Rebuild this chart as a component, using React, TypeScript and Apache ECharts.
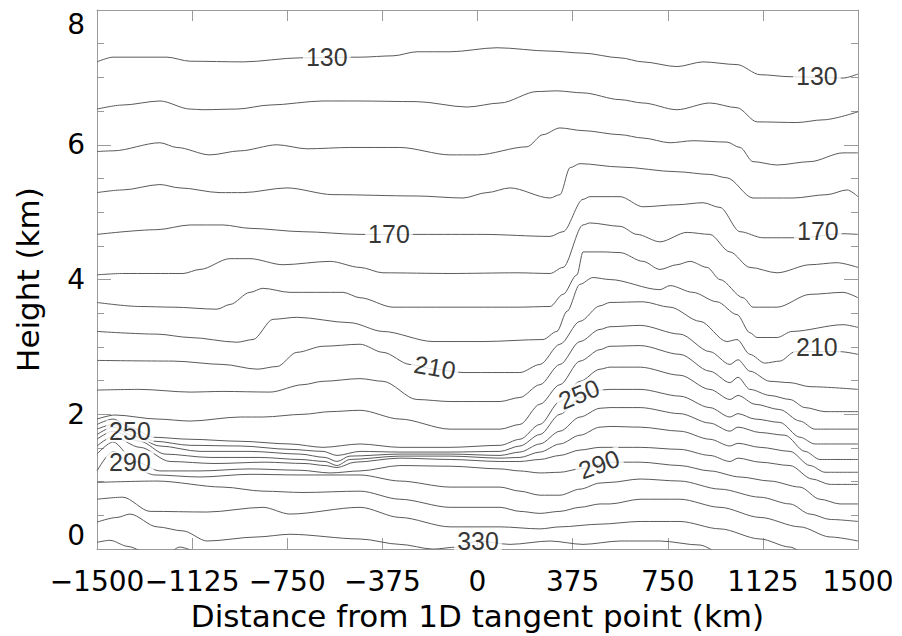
import React, { useEffect, useRef } from "react";
import * as echarts from "echarts";

type Pt = [number, number];

// Contour levels (one polyline per level), distance in km vs height in km
const c130: Pt[] = [[-1500,7.23],[-1437,7.30],[-1224,7.30],[-1133,7.24],[-924,7.23],[-700,7.29],[-463,7.30],[-333,7.32],[-239,7.38],[-108,7.38],[77,7.44],[286,7.39],[416,7.36],[562,7.29],[652,7.23],[786,7.16],[889,7.23],[1023,7.19],[1114,7.04],[1232,7.01],[1441,6.99],[1500,7.05]];
const c140: Pt[] = [[-1500,6.53],[-1398,6.59],[-1252,6.65],[-1133,6.53],[-1082,6.52],[-948,6.53],[-818,6.59],[-609,6.65],[-475,6.65],[-239,6.64],[-41,6.56],[89,6.62],[235,6.79],[313,6.80],[416,6.77],[562,6.67],[652,6.62],[786,6.52],[916,6.62],[1023,6.55],[1102,6.34],[1259,6.33],[1362,6.37],[1500,6.49]];
const c150: Pt[] = [[-1500,5.90],[-1437,5.91],[-1252,6.03],[-1185,5.96],[-1055,5.85],[-936,5.91],[-790,6.00],[-672,5.94],[-503,5.96],[-306,5.96],[-108,5.85],[0,5.85],[195,5.97],[258,6.15],[325,6.25],[416,6.21],[562,6.15],[652,6.10],[759,6.03],[849,6.06],[983,6.04],[1035,5.96],[1086,5.75],[1181,5.70],[1311,5.75],[1441,5.88],[1500,5.88]];
const c160: Pt[] = [[-1500,5.29],[-1398,5.33],[-1252,5.41],[-1173,5.36],[-1015,5.29],[-924,5.29],[-751,5.36],[-570,5.26],[-239,5.24],[-57,5.21],[37,5.29],[128,5.36],[286,5.21],[325,5.26],[365,5.66],[404,5.72],[562,5.67],[786,5.60],[916,5.56],[983,5.51],[1086,5.21],[1244,5.21],[1378,5.26],[1457,5.33],[1500,5.23]];
const c170: Pt[] = [[-1500,4.67],[-1264,4.74],[-1133,4.81],[-1003,4.81],[-897,4.76],[-688,4.71],[-463,4.67],[-227,4.67],[22,4.67],[286,4.64],[337,4.71],[416,5.19],[443,5.23],[562,5.23],[652,5.08],[786,5.11],[889,5.14],[956,5.07],[1035,4.71],[1125,4.62],[1271,4.62],[1441,4.68],[1500,4.67]];
const c180: Pt[] = [[-1500,4.07],[-1398,4.09],[-1161,4.09],[-1094,4.15],[-976,4.31],[-897,4.31],[-767,4.22],[-581,4.27],[-463,4.18],[-373,4.10],[-108,4.09],[156,4.10],[286,4.09],[337,4.18],[416,4.81],[443,4.84],[562,4.79],[629,4.67],[719,4.56],[826,4.70],[916,4.67],[995,4.41],[1074,4.18],[1181,4.10],[1311,4.22],[1417,4.25],[1500,4.18]];
const c190: Pt[] = [[-1500,3.66],[-1330,3.60],[-1200,3.59],[-1027,3.56],[-976,3.63],[-897,3.81],[-846,3.87],[-739,3.81],[-530,3.81],[-463,3.73],[-333,3.59],[-108,3.59],[156,3.59],[286,3.60],[337,3.78],[392,4.07],[416,4.41],[495,4.41],[562,4.40],[652,4.27],[719,4.15],[786,4.22],[838,4.27],[905,4.18],[956,4.00],[1047,3.73],[1086,3.59],[1181,3.59],[1311,3.78],[1441,3.81],[1500,3.73]];
const c200: Pt[] = [[-1500,3.23],[-1263,3.19],[-1133,3.14],[-948,3.07],[-885,3.11],[-806,3.41],[-712,3.44],[-503,3.36],[-373,3.23],[-175,3.08],[22,3.08],[258,3.11],[313,3.23],[353,3.53],[404,3.93],[455,4.03],[522,4.00],[719,3.85],[759,3.91],[849,3.81],[944,3.67],[1023,3.48],[1074,3.21],[1102,3.14],[1181,3.14],[1240,3.23],[1441,3.33],[1500,3.29]];
const c210: Pt[] = [[-1500,2.80],[-1200,2.79],[-1003,2.74],[-869,2.67],[-790,2.71],[-712,2.92],[-609,3.01],[-463,3.04],[-373,2.92],[-266,2.74],[-168,2.67],[-57,2.62],[89,2.62],[167,2.62],[246,2.74],[325,3.04],[404,3.38],[483,3.61],[522,3.66],[652,3.67],[759,3.59],[877,3.38],[983,3.08],[1023,3.11],[1074,2.89],[1133,2.76],[1192,2.79],[1252,2.93],[1429,2.93],[1500,2.89]];
const c220: Pt[] = [[-1500,2.36],[-1330,2.37],[-1133,2.33],[-1003,2.34],[-818,2.33],[-688,2.44],[-609,2.49],[-463,2.53],[-373,2.49],[-239,2.22],[-108,2.19],[89,2.19],[167,2.25],[246,2.44],[325,2.74],[404,3.08],[483,3.26],[522,3.30],[641,3.32],[798,3.19],[916,2.93],[995,2.74],[1027,2.81],[1074,2.64],[1153,2.49],[1232,2.47],[1311,2.41],[1500,2.37]];
const c230: Pt[] = [[-1500,1.93],[-1429,1.99],[-1263,1.93],[-1133,1.90],[-936,1.96],[-846,1.96],[-688,2.00],[-581,2.04],[-463,2.06],[-306,1.93],[-108,1.78],[89,1.78],[167,1.85],[246,2.15],[325,2.44],[404,2.79],[483,2.96],[522,3.01],[641,3.02],[798,2.89],[916,2.64],[995,2.47],[1027,2.55],[1074,2.37],[1153,2.28],[1232,2.22],[1291,2.10],[1370,2.04],[1500,2.04]];
const c240: Pt[] = [[-1500,1.85],[-1437,1.93],[-1370,1.81],[-1279,1.66],[-1133,1.63],[-936,1.60],[-739,1.56],[-609,1.51],[-463,1.56],[-306,1.51],[-108,1.51],[89,1.54],[167,1.63],[246,1.85],[325,2.19],[404,2.49],[483,2.67],[522,2.70],[641,2.70],[798,2.58],[916,2.37],[995,2.22],[1027,2.28],[1094,2.15],[1192,2.07],[1271,1.90],[1330,1.78],[1500,1.78]];
const c250: Pt[] = [[-1500,1.78],[-1437,1.85],[-1370,1.75],[-1271,1.60],[-1133,1.54],[-936,1.53],[-739,1.48],[-609,1.45],[-554,1.39],[-463,1.45],[-306,1.44],[-108,1.44],[89,1.45],[167,1.53],[246,1.70],[325,2.00],[404,2.25],[483,2.36],[522,2.37],[641,2.37],[798,2.27],[916,2.10],[995,1.96],[1027,2.01],[1094,1.93],[1192,1.88],[1271,1.66],[1330,1.56],[1500,1.56]];
const c260: Pt[] = [[-1500,1.70],[-1437,1.81],[-1350,1.67],[-1252,1.53],[-1094,1.45],[-897,1.45],[-700,1.41],[-601,1.36],[-554,1.30],[-503,1.38],[-306,1.41],[-108,1.41],[89,1.39],[167,1.44],[246,1.56],[325,1.75],[404,1.96],[483,2.09],[522,2.10],[641,2.10],[798,2.01],[916,1.87],[995,1.75],[1027,1.81],[1114,1.73],[1212,1.69],[1291,1.45],[1350,1.33],[1500,1.33]];
const c270: Pt[] = [[-1500,1.63],[-1437,1.75],[-1330,1.60],[-1232,1.41],[-1055,1.36],[-857,1.36],[-700,1.33],[-601,1.30],[-554,1.24],[-503,1.33],[-306,1.38],[-108,1.38],[89,1.35],[167,1.36],[246,1.44],[325,1.56],[404,1.69],[483,1.81],[522,1.82],[641,1.81],[798,1.75],[916,1.63],[995,1.53],[1027,1.57],[1114,1.51],[1232,1.45],[1311,1.24],[1370,1.14],[1500,1.14]];
const c280: Pt[] = [[-1500,1.53],[-1437,1.67],[-1330,1.51],[-1212,1.30],[-1035,1.27],[-838,1.29],[-680,1.27],[-601,1.24],[-554,1.21],[-483,1.29],[-306,1.35],[-108,1.33],[89,1.30],[167,1.30],[246,1.33],[325,1.39],[404,1.47],[483,1.51],[522,1.51],[641,1.51],[798,1.48],[916,1.39],[995,1.30],[1027,1.35],[1114,1.29],[1232,1.24],[1319,1.04],[1390,0.96],[1500,0.96]];
const c290: Pt[] = [[-1500,1.41],[-1437,1.59],[-1350,1.30],[-1252,1.16],[-1094,1.16],[-897,1.19],[-700,1.17],[-581,1.13],[-463,1.16],[-306,1.24],[-108,1.23],[89,1.19],[167,1.16],[246,1.13],[325,1.14],[404,1.19],[483,1.26],[522,1.29],[641,1.29],[798,1.24],[916,1.16],[1035,1.07],[1153,1.01],[1271,0.92],[1350,0.74],[1429,0.67],[1500,0.67]];
const c300: Pt[] = [[-1500,1.16],[-1437,1.45],[-1350,1.19],[-1271,1.10],[-1094,1.07],[-897,1.11],[-700,1.10],[-463,1.10],[-306,1.01],[-108,0.92],[89,0.92],[167,0.86],[246,0.80],[325,0.80],[404,0.89],[483,0.98],[522,0.99],[641,1.04],[798,1.01],[956,0.89],[1114,0.77],[1232,0.67],[1311,0.52],[1390,0.44],[1500,0.41]];
const c310: Pt[] = [[-1500,0.99],[-1263,1.01],[-1003,0.92],[-846,0.86],[-688,0.84],[-463,0.86],[-306,0.74],[-108,0.62],[89,0.62],[167,0.56],[246,0.53],[325,0.56],[404,0.62],[483,0.67],[522,0.67],[641,0.74],[798,0.74],[956,0.62],[1114,0.47],[1271,0.33],[1390,0.18],[1500,0.12]];
const c320: Pt[] = [[-1500,0.74],[-1398,0.77],[-1291,0.56],[-1066,0.55],[-846,0.62],[-739,0.52],[-463,0.62],[-306,0.47],[-108,0.33],[89,0.33],[246,0.30],[325,0.33],[483,0.37],[641,0.41],[798,0.41],[956,0.30],[1114,0.15],[1232,0.03],[1291,-0.09]];
const c330: Pt[] = [[-1500,0.40],[-1421,0.47],[-1370,0.52],[-1263,0.33],[-1161,0.27],[-1066,0.12],[-869,0.18],[-739,0.22],[-463,0.15],[-306,0.07],[-175,0.00],[-81,0.03],[2,0.12],[128,0.07],[286,0.12],[416,0.07],[562,0.12],[719,0.12],[877,0.06],[936,-0.04]];
const c340: Pt[] = [[-1500,0.10],[-1449,0.13],[-1378,0.04],[-1311,-0.04],[-1232,-0.09],[-1173,0.03],[-1114,-0.04]];

const levels = [130, 140, 150, 160, 170, 180, 190, 200, 210, 220, 230, 240, 250, 260, 270, 280, 290, 300, 310, 320, 330, 340];
const contourLines: Pt[][] = [c130, c140, c150, c160, c170, c180, c190, c200, c210, c220, c230, c240, c250, c260, c270, c280, c290, c300, c310, c320, c330, c340];

// In-line contour labels: distance, height, text, rotation (deg)
const labelDistance = [-594, 1338, -349, 1342, -168, 1338, -1370, 400, -1370, 479, 2];
const labelHeight = [7.30, 7.02, 4.67, 4.72, 2.70, 3.00, 1.75, 2.30, 1.29, 1.26, 0.12];
const labelText = ["130", "130", "170", "170", "210", "210", "250", "250", "290", "290", "330"];
const labelRotate = [0, 0, 0, 0, -10, 0, 0, 22, 0, 20, 0];

const xTickStep = 375;
const yTickStep = 2;

const FRAME = "#9a9a9a";
const LINE = "#5a5a5a";

export default function App() {
  const ref = useRef<HTMLDivElement>(null);

  useEffect(() => {
    if (!ref.current) return;
    const chart = echarts.init(ref.current, undefined, { renderer: "svg" });

    const axisLine = { show: true, onZero: false, lineStyle: { color: FRAME, width: 1 } };
    const tickFont = { fontFamily: "DejaVu Sans", fontSize: 28, color: "#000" };

    const lineSeries = contourLines.map((pts, i) => ({
      name: String(levels[i]),
      type: "line",
      data: pts,
      showSymbol: false,
      symbol: "none",
      smooth: 0.3,
      smoothMonotone: "x",
      clip: true,
      z: 2,
      silent: true,
      lineStyle: { color: LINE, width: 1 },
    }));

    const labelSeries = {
      type: "scatter",
      symbolSize: 1,
      itemStyle: { color: "rgba(0,0,0,0)" },
      z: 4,
      silent: true,
      data: labelText.map((t, i) => ({
        name: t,
        value: [labelDistance[i], labelHeight[i]],
        label: { rotate: labelRotate[i] },
      })),
      label: {
        show: true,
        position: "inside",
        formatter: "{b}",
        fontFamily: "Liberation Sans",
        fontSize: 25,
        color: "#000",
        backgroundColor: "#fff",
        padding: [1, 3],
        lineHeight: 20,
      },
    };

    const option = {
      animation: false,
      backgroundColor: "#fff",
      grid: { left: 97, right: 44, top: 10, bottom: 86, containLabel: false },
      xAxis: [
        {
          type: "value",
          min: -1500,
          max: 1500,
          interval: xTickStep,
          position: "bottom",
          axisLine,
          axisTick: { show: true, inside: true, length: 11, lineStyle: { color: FRAME } },
          axisLabel: {
            ...tickFont,
            margin: 18,
            formatter: (v: number) => String(v).replace("-", "\u2212"),
          },
          splitLine: { show: false },
          name: "Distance from 1D tangent point (km)",
          nameLocation: "middle",
          nameGap: 45,
          nameTextStyle: { fontFamily: "DejaVu Sans", fontSize: 31, color: "#000" },
        },
        {
          type: "value",
          min: -1500,
          max: 1500,
          interval: xTickStep,
          position: "top",
          axisLine,
          axisTick: { show: true, inside: true, length: 11, lineStyle: { color: FRAME } },
          axisLabel: { show: false },
          splitLine: { show: false },
        },
      ],
      yAxis: [
        {
          type: "value",
          min: 0,
          max: 8,
          interval: yTickStep,
          position: "left",
          axisLine,
          axisTick: { show: true, inside: true, length: 14, lineStyle: { color: FRAME } },
          minorTick: { show: true, splitNumber: 4, length: 7, lineStyle: { color: FRAME } },
          axisLabel: {
            ...tickFont,
            margin: 12,
            verticalAlignMinLabel: "bottom",
            verticalAlignMaxLabel: "top",
          },
          splitLine: { show: false },
          minorSplitLine: { show: false },
          name: "Height (km)",
          nameLocation: "middle",
          nameGap: 54,
          nameTextStyle: { fontFamily: "DejaVu Sans", fontSize: 31, color: "#000" },
        },
        {
          type: "value",
          min: 0,
          max: 8,
          interval: yTickStep,
          position: "right",
          axisLine,
          axisTick: { show: true, inside: true, length: 14, lineStyle: { color: FRAME } },
          minorTick: { show: true, splitNumber: 4, length: 7, lineStyle: { color: FRAME } },
          axisLabel: { show: false },
          splitLine: { show: false },
          minorSplitLine: { show: false },
        },
      ],
      series: [...lineSeries, labelSeries],
    };

    chart.setOption(option as any);
    return () => chart.dispose();
  }, []);

  return (
    <div
      ref={ref}
      style={{ position: "fixed", left: 0, top: 0, width: 902, height: 636, background: "#fff" }}
    />
  );
}
